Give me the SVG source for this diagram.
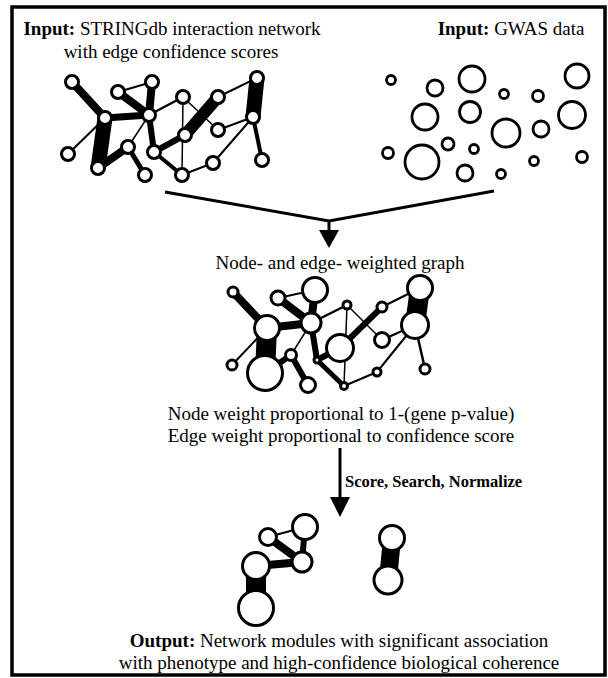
<svg xmlns="http://www.w3.org/2000/svg" width="608" height="678" viewBox="0 0 608 678">
<style>
text{font-family:"Liberation Serif","Times New Roman",serif;font-size:19px;fill:#000}
.b{font-weight:bold}
.nd{fill:#fff;stroke:#000;stroke-width:3}
.g{fill:#fff;stroke:#000;stroke-width:2.8}
.e{stroke:#000;stroke-linecap:butt;fill:none}
</style>
<rect x="12" y="7" width="593" height="668" fill="#fff" stroke="#000" stroke-width="3.5"/>

<g id="labels">
<text x="172" y="35" text-anchor="middle"><tspan class="b">Input:</tspan> STRINGdb interaction network</text>
<text x="171" y="58" text-anchor="middle">with edge confidence scores</text>
<text x="511" y="35" text-anchor="middle"><tspan class="b">Input:</tspan> GWAS data</text>
<text x="340" y="269" text-anchor="middle">Node- and edge- weighted graph</text>
<text x="341" y="420" text-anchor="middle">Node weight proportional to 1-(gene p-value)</text>
<text x="341" y="442" text-anchor="middle">Edge weight proportional to confidence score</text>
<text x="345" y="487" class="b" style="font-size:16.5px">Score, Search, Normalize</text>
<text x="339" y="647" text-anchor="middle"><tspan class="b">Output:</tspan> Network modules with significant association</text>
<text x="339" y="669" text-anchor="middle">with phenotype and high-confidence biological coherence</text>
</g>

<g id="connectors">
<!-- network 1 edges -->
<g class="e">
<line x1="72" y1="82" x2="105" y2="118" stroke-width="8"/>
<line x1="118" y1="92" x2="149" y2="115" stroke-width="8"/>
<line x1="152" y1="82" x2="149" y2="115" stroke-width="8"/>
<line x1="152" y1="82" x2="118" y2="92" stroke-width="2"/>
<line x1="105" y1="118" x2="149" y2="115" stroke-width="7"/>
<line x1="105" y1="118" x2="68" y2="154" stroke-width="2"/>
<line x1="105" y1="118" x2="98" y2="168" stroke-width="15"/>
<line x1="98" y1="168" x2="128" y2="147" stroke-width="8"/>
<line x1="128" y1="147" x2="145" y2="175" stroke-width="5"/>
<line x1="149" y1="115" x2="128" y2="147" stroke-width="1.5"/>
<line x1="149" y1="115" x2="154" y2="152" stroke-width="6"/>
<line x1="149" y1="115" x2="183" y2="97" stroke-width="2.5"/>
<line x1="154" y1="152" x2="185" y2="135" stroke-width="6"/>
<line x1="154" y1="152" x2="182" y2="175" stroke-width="4"/>
<line x1="185" y1="135" x2="218" y2="97" stroke-width="12"/>
<line x1="183" y1="97" x2="182" y2="175" stroke-width="1.5"/>
<line x1="183" y1="97" x2="218" y2="130" stroke-width="1.5"/>
<line x1="218" y1="97" x2="257" y2="78" stroke-width="2"/>
<line x1="257" y1="78" x2="253" y2="117" stroke-width="15"/>
<line x1="253" y1="117" x2="218" y2="130" stroke-width="2"/>
<line x1="253" y1="117" x2="213" y2="163" stroke-width="2"/>
<line x1="253" y1="117" x2="262" y2="160" stroke-width="4"/>
<line x1="182" y1="175" x2="213" y2="163" stroke-width="2"/>
</g>
<!-- merge arrow -->
<polyline class="e" points="165,192 329,221 494,191" stroke-width="3" stroke-linejoin="miter"/>
<line class="e" x1="329" y1="221" x2="329" y2="232" stroke-width="3"/>
<polygon points="319,230 339,230 329,248" fill="#000"/>
<!-- network 2 edges -->
<g class="e">
<line x1="233" y1="292" x2="267" y2="328" stroke-width="8"/>
<line x1="278" y1="298" x2="311" y2="323" stroke-width="8"/>
<line x1="315" y1="290" x2="311" y2="323" stroke-width="8"/>
<line x1="315" y1="290" x2="278" y2="298" stroke-width="2"/>
<line x1="267" y1="328" x2="311" y2="323" stroke-width="8"/>
<line x1="267" y1="328" x2="232" y2="365" stroke-width="2"/>
<line x1="267" y1="328" x2="265" y2="373" stroke-width="20"/>
<line x1="265" y1="373" x2="291" y2="355" stroke-width="6"/>
<line x1="291" y1="355" x2="308" y2="385" stroke-width="6"/>
<line x1="311" y1="323" x2="291" y2="355" stroke-width="1.5"/>
<line x1="311" y1="323" x2="317" y2="360" stroke-width="6"/>
<line x1="311" y1="323" x2="347" y2="305" stroke-width="2.5"/>
<line x1="317" y1="360" x2="340" y2="348" stroke-width="6"/>
<line x1="317" y1="360" x2="344" y2="386" stroke-width="5"/>
<line x1="340" y1="348" x2="382" y2="307" stroke-width="6"/>
<line x1="347" y1="305" x2="344" y2="386" stroke-width="1.5"/>
<line x1="347" y1="305" x2="382" y2="340" stroke-width="1.5"/>
<line x1="382" y1="307" x2="420" y2="288" stroke-width="2"/>
<line x1="420" y1="288" x2="415" y2="325" stroke-width="20"/>
<line x1="415" y1="325" x2="382" y2="340" stroke-width="2"/>
<line x1="415" y1="325" x2="377" y2="372" stroke-width="2"/>
<line x1="415" y1="325" x2="425" y2="369" stroke-width="2.5"/>
<line x1="344" y1="386" x2="377" y2="372" stroke-width="2"/>
</g>
<!-- second arrow -->
<line class="e" x1="340" y1="448" x2="340" y2="500" stroke-width="3"/>
<polygon points="330,497 350,497 340,517" fill="#000"/>
<!-- module edges -->
<g class="e">
<line x1="268" y1="537" x2="305" y2="527" stroke-width="2"/>
<line x1="268" y1="537" x2="302" y2="562" stroke-width="8"/>
<line x1="305" y1="527" x2="302" y2="562" stroke-width="6"/>
<line x1="256" y1="566" x2="302" y2="562" stroke-width="8"/>
<line x1="256" y1="566" x2="256" y2="608" stroke-width="20"/>
<line x1="392" y1="538" x2="388" y2="580" stroke-width="18"/>
</g>
</g>

<g id="network1">
<g id="n1A"><circle class="nd" cx="72" cy="82" r="6.5"/></g>
<g id="n1B"><circle class="nd" cx="118" cy="92" r="6.5"/></g>
<g id="n1C"><circle class="nd" cx="152" cy="82" r="6.5"/></g>
<g id="n1D"><circle class="nd" cx="105" cy="118" r="6.5"/></g>
<g id="n1E"><circle class="nd" cx="149" cy="115" r="6.5"/></g>
<g id="n1F"><circle class="nd" cx="183" cy="97" r="6.5"/></g>
<g id="n1G"><circle class="nd" cx="218" cy="97" r="6.5"/></g>
<g id="n1H"><circle class="nd" cx="257" cy="78" r="6.5"/></g>
<g id="n1I"><circle class="nd" cx="253" cy="117" r="6.5"/></g>
<g id="n1J"><circle class="nd" cx="68" cy="154" r="6.5"/></g>
<g id="n1K"><circle class="nd" cx="128" cy="147" r="6.5"/></g>
<g id="n1L"><circle class="nd" cx="98" cy="168" r="6.5"/></g>
<g id="n1M"><circle class="nd" cx="145" cy="175" r="6.5"/></g>
<g id="n1N"><circle class="nd" cx="154" cy="152" r="6.5"/></g>
<g id="n1O"><circle class="nd" cx="185" cy="135" r="6.5"/></g>
<g id="n1P"><circle class="nd" cx="218" cy="130" r="6.5"/></g>
<g id="n1Q"><circle class="nd" cx="182" cy="175" r="6.5"/></g>
<g id="n1R"><circle class="nd" cx="213" cy="163" r="6.5"/></g>
<g id="n1S"><circle class="nd" cx="262" cy="160" r="6.5"/></g>
</g>

<g id="gwas">
<g id="g01"><circle class="g" cx="391" cy="80" r="4.5"/></g>
<g id="g02"><circle class="g" cx="435" cy="88" r="8"/></g>
<g id="g03"><circle class="g" cx="472" cy="79" r="13"/></g>
<g id="g04"><circle class="g" cx="504" cy="94" r="4.5"/></g>
<g id="g05"><circle class="g" cx="538" cy="96" r="5.5"/></g>
<g id="g06"><circle class="g" cx="577" cy="76" r="12"/></g>
<g id="g07"><circle class="g" cx="425" cy="117" r="13"/></g>
<g id="g08"><circle class="g" cx="470" cy="112" r="10.5"/></g>
<g id="g09"><circle class="g" cx="572" cy="115" r="13.5"/></g>
<g id="g10"><circle class="g" cx="506" cy="133" r="14"/></g>
<g id="g11"><circle class="g" cx="541" cy="129" r="8"/></g>
<g id="g12"><circle class="g" cx="448" cy="144" r="6"/></g>
<g id="g13"><circle class="g" cx="474" cy="149" r="4.5"/></g>
<g id="g14"><circle class="g" cx="388" cy="153" r="5.5"/></g>
<g id="g15"><circle class="g" cx="422" cy="162" r="17"/></g>
<g id="g16"><circle class="g" cx="465" cy="173" r="8"/></g>
<g id="g17"><circle class="g" cx="501" cy="174" r="4.5"/></g>
<g id="g18"><circle class="g" cx="534" cy="161" r="4.5"/></g>
<g id="g19"><circle class="g" cx="582" cy="157" r="5.5"/></g>
</g>

<g id="network2">
<g id="n2a"><circle class="nd" cx="233" cy="292" r="5"/></g>
<g id="n2b"><circle class="nd" cx="278" cy="298" r="7"/></g>
<g id="n2c"><circle class="nd" cx="315" cy="290" r="12.5"/></g>
<g id="n2d"><circle class="nd" cx="267" cy="328" r="12.5"/></g>
<g id="n2e"><circle class="nd" cx="311" cy="323" r="10"/></g>
<g id="n2f"><circle class="nd" cx="347" cy="305" r="4"/></g>
<g id="n2g"><circle class="nd" cx="382" cy="307" r="5"/></g>
<g id="n2h"><circle class="nd" cx="420" cy="288" r="12.5"/></g>
<g id="n2i"><circle class="nd" cx="415" cy="325" r="13.5"/></g>
<g id="n2j"><circle class="nd" cx="232" cy="365" r="5"/></g>
<g id="n2k"><circle class="nd" cx="291" cy="355" r="5.5"/></g>
<g id="n2l"><circle class="nd" cx="265" cy="373" r="17.5"/></g>
<g id="n2m"><circle class="nd" cx="308" cy="385" r="7.5"/></g>
<g id="n2n"><circle class="nd" cx="317" cy="360" r="3"/></g>
<g id="n2o"><circle class="nd" cx="340" cy="348" r="13.5"/></g>
<g id="n2p"><circle class="nd" cx="382" cy="340" r="7.5"/></g>
<g id="n2q"><circle class="nd" cx="344" cy="386" r="3.5"/></g>
<g id="n2r"><circle class="nd" cx="377" cy="372" r="4"/></g>
<g id="n2s"><circle class="nd" cx="425" cy="369" r="5"/></g>
</g>

<g id="modules">
<g id="m1"><circle class="nd" cx="268" cy="537" r="8.5"/></g>
<g id="m2"><circle class="nd" cx="305" cy="527" r="12.5"/></g>
<g id="m3"><circle class="nd" cx="302" cy="562" r="10"/></g>
<g id="m4"><circle class="nd" cx="256" cy="566" r="13.5"/></g>
<g id="m5"><circle class="nd" cx="256" cy="608" r="17.5"/></g>
<g id="m6"><circle class="nd" cx="392" cy="538" r="12.5"/></g>
<g id="m7"><circle class="nd" cx="388" cy="580" r="14"/></g>
</g>
</svg>
